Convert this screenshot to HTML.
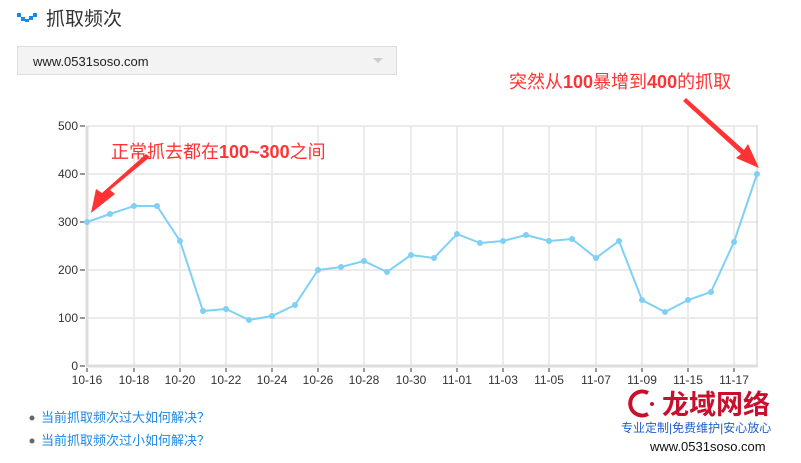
<!DOCTYPE html>
<html><head><meta charset="utf-8"><style>
html,body{margin:0;padding:0;background:#fff;width:801px;height:463px;overflow:hidden}
svg{display:block}
text{font-family:"Liberation Sans","Noto Sans CJK SC",sans-serif}
</style></head><body>
<svg width="801" height="463" viewBox="0 0 801 463" xmlns="http://www.w3.org/2000/svg">
<g fill="#1e88e5">
<rect x="17" y="13" width="4" height="4"/><rect x="21" y="17" width="4" height="4"/><rect x="25" y="19" width="4" height="3"/><rect x="29" y="16" width="4" height="4"/><rect x="33" y="13" width="4" height="4"/>
</g>
<text x="46" y="25" font-size="19" fill="#333">抓取频次</text>
<rect x="17.5" y="46.5" width="379" height="28" fill="#f3f3f3" stroke="#ddd"/>
<text x="33" y="66" font-size="13" fill="#222">www.0531soso.com</text>
<polygon points="373,58 383,58 378,63" fill="#ccc"/>
<g stroke="#ebebeb" stroke-width="2">
<line x1="87" y1="126" x2="758" y2="126"/><line x1="87" y1="174" x2="758" y2="174"/><line x1="87" y1="222" x2="758" y2="222"/><line x1="87" y1="270" x2="758" y2="270"/><line x1="87" y1="318" x2="758" y2="318"/>
<line x1="134" y1="126" x2="134" y2="366"/><line x1="180" y1="126" x2="180" y2="366"/><line x1="226" y1="126" x2="226" y2="366"/><line x1="272" y1="126" x2="272" y2="366"/><line x1="318" y1="126" x2="318" y2="366"/><line x1="364" y1="126" x2="364" y2="366"/><line x1="411" y1="126" x2="411" y2="366"/><line x1="457" y1="126" x2="457" y2="366"/><line x1="503" y1="126" x2="503" y2="366"/><line x1="549" y1="126" x2="549" y2="366"/><line x1="596" y1="126" x2="596" y2="366"/><line x1="642" y1="126" x2="642" y2="366"/><line x1="688" y1="126" x2="688" y2="366"/><line x1="734" y1="126" x2="734" y2="366"/>
</g>
<line x1="757" y1="126" x2="757" y2="366" stroke="#ccc" stroke-width="1"/>
<line x1="87" y1="126" x2="87" y2="366" stroke="#ddd" stroke-width="3"/>
<line x1="86" y1="366" x2="758" y2="366" stroke="#ddd" stroke-width="3"/>
<g stroke="#333" stroke-width="1">
<line x1="80" y1="126" x2="85" y2="126"/><line x1="80" y1="174" x2="85" y2="174"/><line x1="80" y1="222" x2="85" y2="222"/><line x1="80" y1="270" x2="85" y2="270"/><line x1="80" y1="318" x2="85" y2="318"/><line x1="80" y1="366" x2="85" y2="366"/>
<line x1="87" y1="368" x2="87" y2="372"/><line x1="134" y1="368" x2="134" y2="372"/><line x1="180" y1="368" x2="180" y2="372"/><line x1="226" y1="368" x2="226" y2="372"/><line x1="272" y1="368" x2="272" y2="372"/><line x1="318" y1="368" x2="318" y2="372"/><line x1="364" y1="368" x2="364" y2="372"/><line x1="411" y1="368" x2="411" y2="372"/><line x1="457" y1="368" x2="457" y2="372"/><line x1="503" y1="368" x2="503" y2="372"/><line x1="549" y1="368" x2="549" y2="372"/><line x1="596" y1="368" x2="596" y2="372"/><line x1="642" y1="368" x2="642" y2="372"/><line x1="688" y1="368" x2="688" y2="372"/><line x1="734" y1="368" x2="734" y2="372"/>
</g>
<g font-size="12" fill="#333" text-anchor="end">
<text x="78" y="130">500</text><text x="78" y="178">400</text><text x="78" y="226">300</text><text x="78" y="274">200</text><text x="78" y="322">100</text><text x="78" y="370">0</text>
</g>
<g font-size="12" fill="#333" text-anchor="middle">
<text x="87" y="384">10-16</text><text x="134" y="384">10-18</text><text x="180" y="384">10-20</text><text x="226" y="384">10-22</text><text x="272" y="384">10-24</text><text x="318" y="384">10-26</text><text x="364" y="384">10-28</text><text x="411" y="384">10-30</text><text x="457" y="384">11-01</text><text x="503" y="384">11-03</text><text x="549" y="384">11-05</text><text x="596" y="384">11-07</text><text x="642" y="384">11-09</text><text x="688" y="384">11-15</text><text x="734" y="384">11-17</text>
</g>
<polyline fill="none" stroke="#7fd0f5" stroke-width="2" points="87,222 110,214 134,206 157,206 180,241 203,311 226,309 249,320 272,316 295,305 318,270 341,267 364,261 387,272 411,255 434,258 457,234 480,243 503,241 526,235 549,241 572,239 596,258 619,241 642,300 665,312 688,300 711,292 734,242 757,174"/>
<g fill="#7fd0f5">
<circle cx="87" cy="222" r="3"/><circle cx="110" cy="214" r="3"/><circle cx="134" cy="206" r="3"/><circle cx="157" cy="206" r="3"/><circle cx="180" cy="241" r="3"/><circle cx="203" cy="311" r="3"/><circle cx="226" cy="309" r="3"/><circle cx="249" cy="320" r="3"/><circle cx="272" cy="316" r="3"/><circle cx="295" cy="305" r="3"/><circle cx="318" cy="270" r="3"/><circle cx="341" cy="267" r="3"/><circle cx="364" cy="261" r="3"/><circle cx="387" cy="272" r="3"/><circle cx="411" cy="255" r="3"/><circle cx="434" cy="258" r="3"/><circle cx="457" cy="234" r="3"/><circle cx="480" cy="243" r="3"/><circle cx="503" cy="241" r="3"/><circle cx="526" cy="235" r="3"/><circle cx="549" cy="241" r="3"/><circle cx="572" cy="239" r="3"/><circle cx="596" cy="258" r="3"/><circle cx="619" cy="241" r="3"/><circle cx="642" cy="300" r="3"/><circle cx="665" cy="312" r="3"/><circle cx="688" cy="300" r="3"/><circle cx="711" cy="292" r="3"/><circle cx="734" cy="242" r="3"/><circle cx="757" cy="174" r="3"/>
</g>
<text x="111" y="158" font-size="18" fill="#f33">正常抓去都在<tspan font-weight="bold">100~300</tspan>之间</text>
<polygon points="150,157 110,190 115,194 91,213 96,189 102,193 146,154" fill="#f33"/>
<text x="509" y="88" font-size="18" fill="#f33">突然从<tspan font-weight="bold">100</tspan>暴增到<tspan font-weight="bold">400</tspan>的抓取</text>
<polygon points="686,98 744,150 748,144 759,168 736,158 741,154 683,101" fill="#f33"/>
<circle cx="32" cy="418" r="2.5" fill="#666"/><circle cx="32" cy="441" r="2.5" fill="#666"/>
<text x="41" y="422" font-size="13" fill="#1e88e5">当前抓取频次过大如何解决？</text>
<text x="41" y="445" font-size="13" fill="#1e88e5">当前抓取频次过小如何解决？</text>
<path d="M648,393 A12,12 0 1 0 648,414" fill="none" stroke="#c8102e" stroke-width="4"/>
<circle cx="652" cy="404" r="2" fill="#c8102e"/>
<text x="662" y="414" font-size="27" font-weight="bold" fill="#c8102e">龙域网络</text>
<text x="621" y="432" font-size="12" fill="#1e5fd0">专业定制|免费维护|安心放心</text>
<text x="650" y="451" font-size="13" fill="#111" font-family="Liberation Mono,monospace">www.0531soso.com</text>
</svg>
</body></html>
